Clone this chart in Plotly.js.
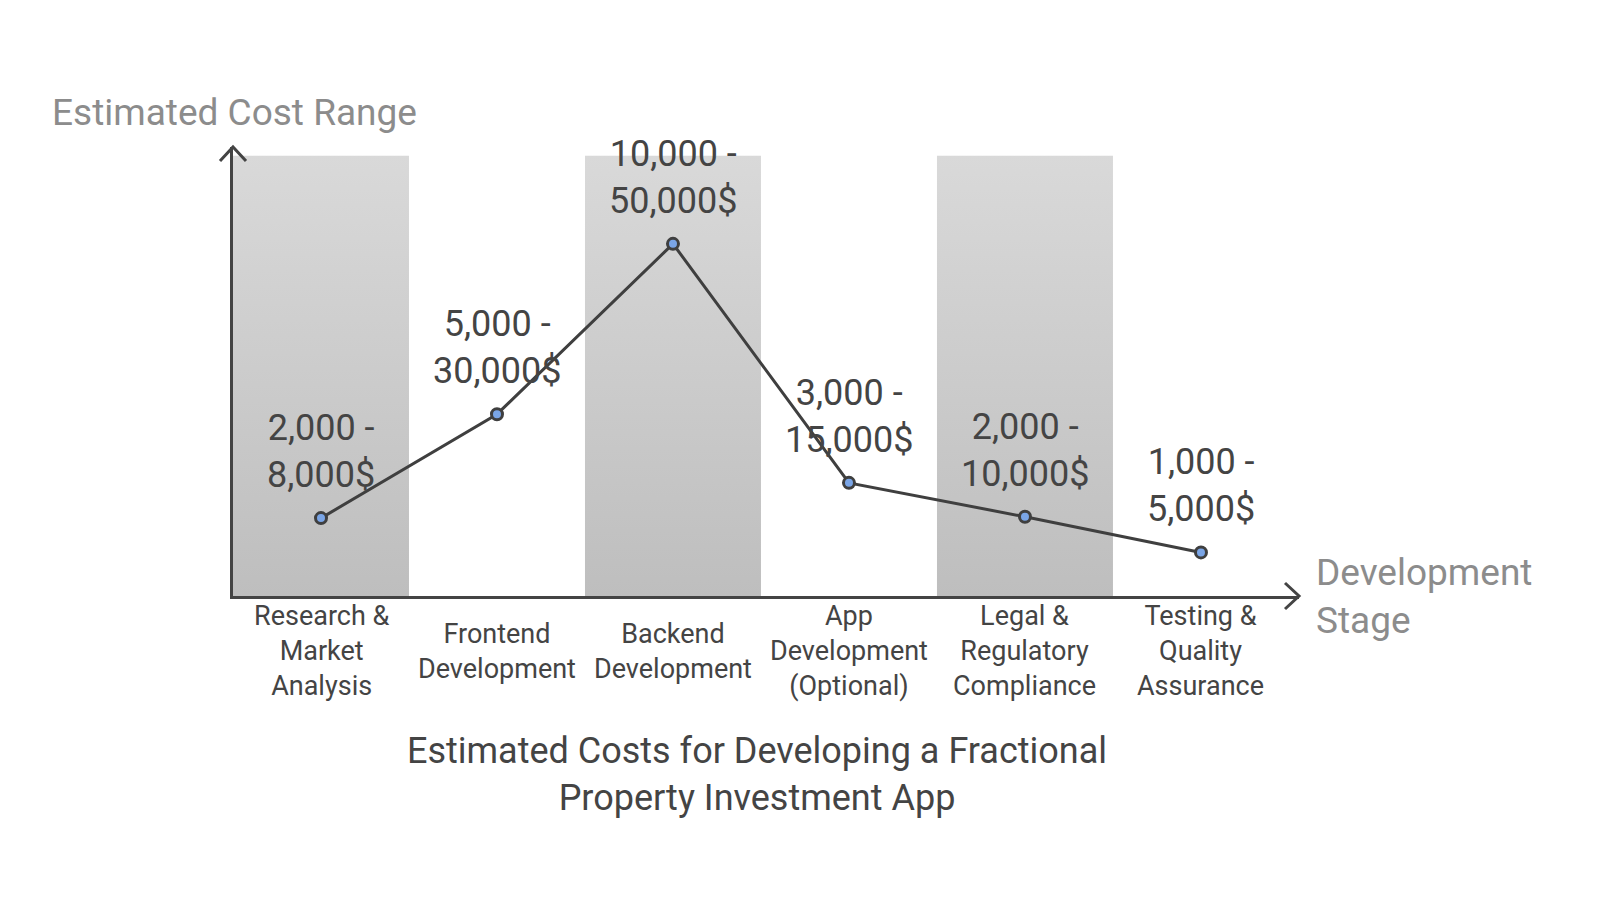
<!DOCTYPE html>
<html>
<head>
<meta charset="utf-8">
<script src="https://cdn.plot.ly/plotly-3.0.1.min.js"></script>
<style>html,body{margin:0;padding:0;background:#fff;}#chart{width:1600px;height:906px;}</style>
</head>
<body>
<div id="chart"></div>
<script>
// ---- data ----
const categories = [
  "Research &<br>Market<br>Analysis",
  "Frontend<br>Development",
  "Backend<br>Development",
  "App<br>Development<br>(Optional)",
  "Legal &<br>Regulatory<br>Compliance",
  "Testing &<br>Quality<br>Assurance"
];
const costRanges = [
  "2,000 -<br>8,000$",
  "5,000 -<br>30,000$",
  "10,000 -<br>50,000$",
  "3,000 -<br>15,000$",
  "2,000 -<br>10,000$",
  "1,000 -<br>5,000$"
];
// relative cost level (position of each point on the unlabelled axis, 0-100 scale)
const costLevel = [17.7, 41.3, 80, 25.7, 18, 9.9];
// shaded background bands (every other stage), full height
const bandStages = [0, 2, 4];
const bandHeight = 100;

// ---- styling ----
const FONT = "Roboto, 'Open Sans', sans-serif";
const DARK = "#444444";
const GREY = "#8c8c8c";
const xIdx = categories.map((_, i) => i);
const PW = 1066, PH = 449; // plot area size in px

const traces = [];
bandStages.forEach(i => {
  traces.push({
    type: "scatter",
    mode: "none",
    x: [i - 0.5, i + 0.5, i + 0.5, i - 0.5, i - 0.5],
    y: [0, 0, bandHeight, bandHeight, 0],
    fill: "toself",
    fillcolor: "#cccccc",
    fillgradient: {type: "vertical", colorscale: [[0, "#bebebe"], [1, "#d9d9d9"]]},
    hoverinfo: "skip",
    showlegend: false
  });
});
traces.push({
  type: "scatter",
  mode: "lines+markers",
  x: xIdx,
  y: costLevel,
  line: {color: "#3f3f3f", width: 3},
  marker: {size: 11, color: "#7aa5e6", line: {color: "#3f3f3f", width: 3}},
  hoverinfo: "skip",
  showlegend: false,
  cliponaxis: false
});

const annotations = [];
// range labels above points
xIdx.forEach(i => {
  annotations.push({
    x: i, y: costLevel[i], xref: "x", yref: "y",
    text: costRanges[i], showarrow: false,
    xanchor: "center", yanchor: "bottom", yshift: 20,
    font: {family: FONT, size: 36, color: DARK}
  });
});
// category labels under axis
xIdx.forEach(i => {
  annotations.push({
    x: i, y: 0, xref: "x", yref: "paper",
    text: categories[i], showarrow: false,
    xanchor: "center", yanchor: "middle", yshift: -55,
    font: {family: FONT, size: 27, color: DARK}
  });
});
// axis titles
annotations.push({
  x: (50 - 233) / PW, y: (596 - 112) / PH, xref: "paper", yref: "paper",
  text: "Estimated Cost Range", showarrow: false,
  xanchor: "left", yanchor: "middle",
  font: {family: FONT, size: 37, color: GREY}
});
annotations.push({
  x: 1 + (1314 - 1299) / PW, y: 0, xref: "paper", yref: "paper",
  text: "Development<br>Stage", showarrow: false, align: "left",
  xanchor: "left", yanchor: "middle",
  font: {family: FONT, size: 37, color: GREY}
});

const arrowLine = {color: DARK, width: 3};
const shapes = [
  {type: "path", xref: "paper", yref: "paper", layer: "above", line: arrowLine,
   path: `M ${-13 / PW},${1 - 14 / PH} L 0,1 L ${13 / PW},${1 - 14 / PH}`},
  {type: "path", xref: "paper", yref: "paper", layer: "above", line: arrowLine,
   path: `M ${1 - 14 / PW},${13 / PH} L 1,0 L ${1 - 14 / PW},${-13 / PH}`}
];

const layout = {
  width: 1600, height: 906,
  paper_bgcolor: "#ffffff", plot_bgcolor: "rgba(0,0,0,0)",
  margin: {l: 233, r: 301, t: 147, b: 310, pad: 0},
  font: {family: FONT, color: DARK},
  title: {
    text: "Estimated Costs for Developing a Fractional<br>Property Investment App",
    x: 757 / 1600, y: 1 - 763 / 906, xref: "container", yref: "container",
    xanchor: "center", yanchor: "middle",
    font: {family: FONT, size: 36, color: DARK}
  },
  xaxis: {
    type: "linear", range: [-0.5, 5.557], showgrid: false, zeroline: false,
    showticklabels: false, ticks: "", showline: true, linecolor: DARK, linewidth: 3, fixedrange: true
  },
  yaxis: {
    range: [0, 102], showgrid: false, zeroline: false,
    showticklabels: false, ticks: "", showline: true, linecolor: DARK, linewidth: 3, fixedrange: true
  },
  annotations: annotations,
  shapes: shapes,
  showlegend: false
};

Plotly.newPlot("chart", traces, layout, {displayModeBar: false, staticPlot: true});
</script>
</body>
</html>
